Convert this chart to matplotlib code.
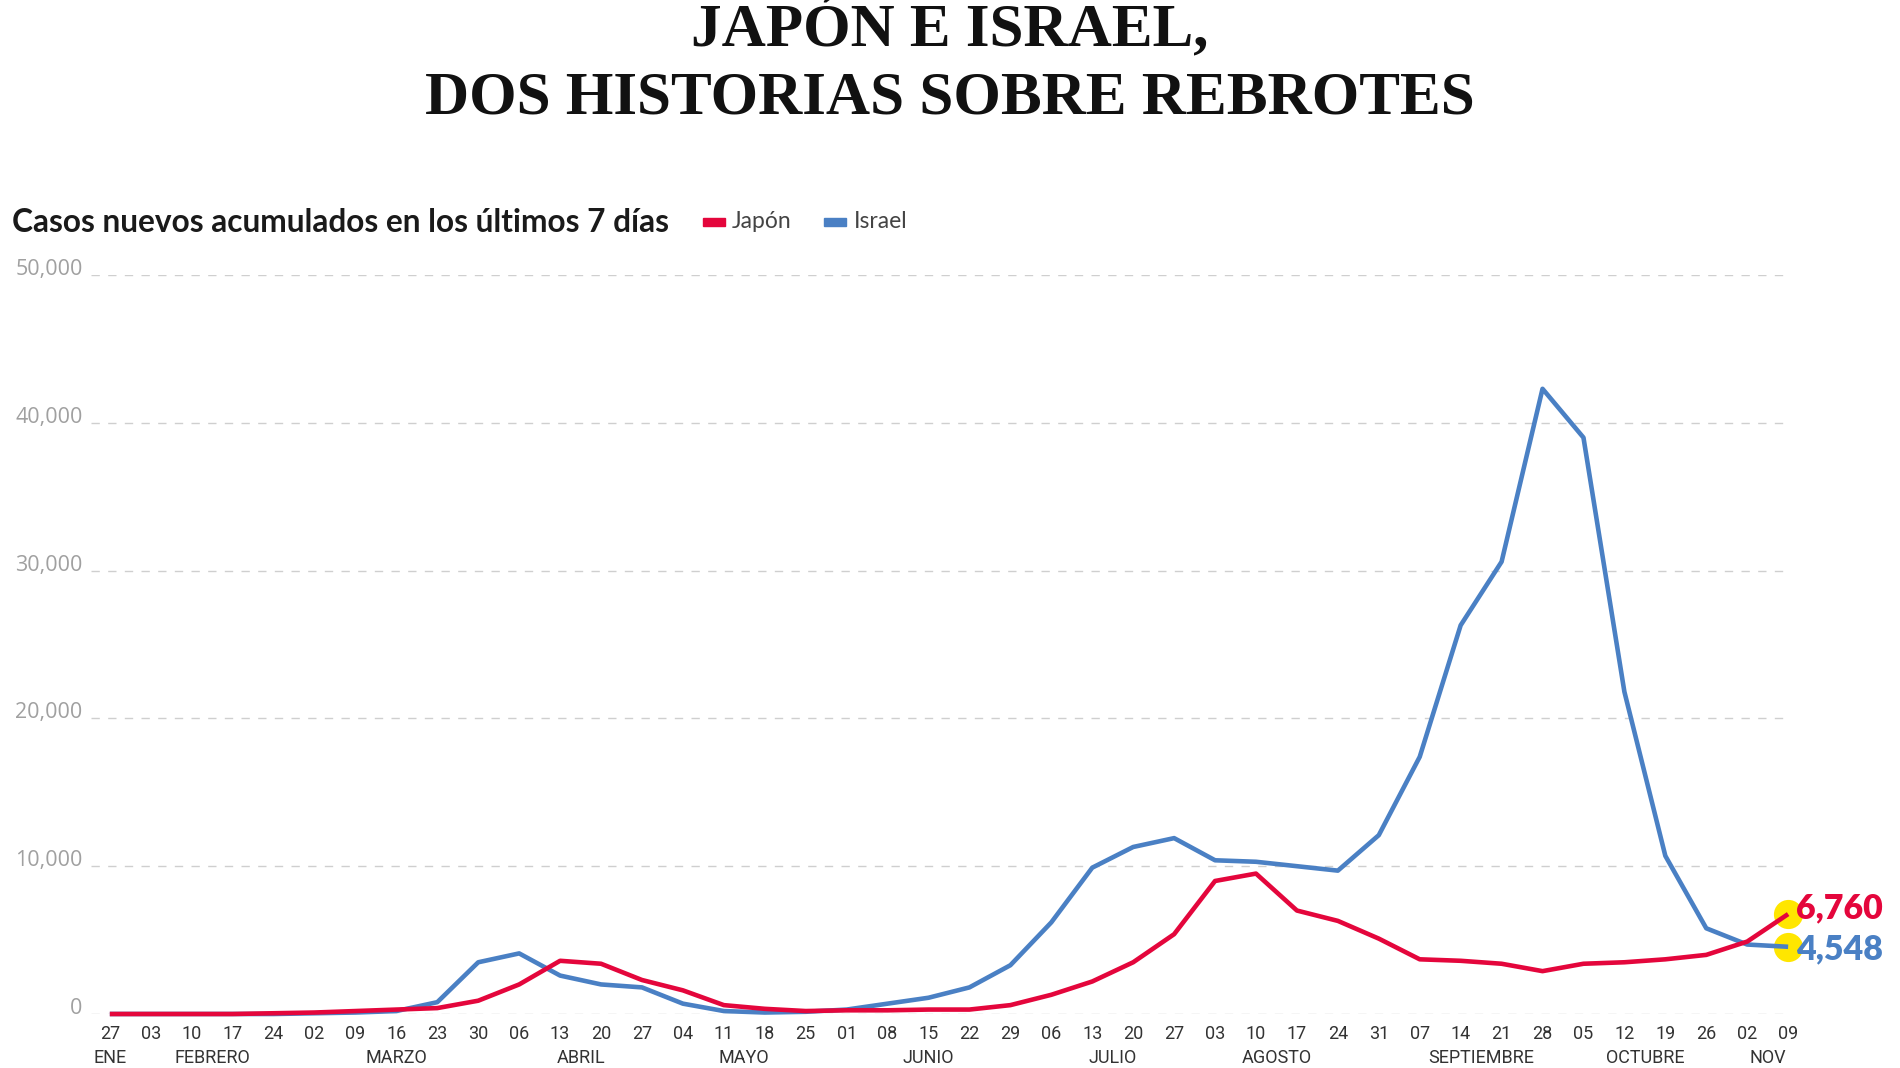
import matplotlib
matplotlib.use("Agg")
import matplotlib.pyplot as plt
from matplotlib.patches import Rectangle

# weekly dates (day numbers) from 27 Jan to 09 Nov
days = ["27", "03", "10", "17", "24", "02", "09", "16", "23", "30", "06", "13",
        "20", "27", "04", "11", "18", "25", "01", "08", "15", "22", "29", "06",
        "13", "20", "27", "03", "10", "17", "24", "31", "07", "14", "21", "28",
        "05", "12", "19", "26", "02", "09"]
months = ["ENE", "FEBRERO", "MARZO", "ABRIL", "MAYO", "JUNIO", "JULIO",
          "AGOSTO", "SEPTIEMBRE", "OCTUBRE", "NOV"]
month_pos = [0, 2.5, 7, 11.5, 15.5, 20, 24.5, 28.5, 33.5, 37.5, 40.5]

japon = [0, 0, 0, 0, 50, 100, 200, 300, 400, 900, 2000, 3600,
         3400, 2300, 1600, 600, 350, 200, 250, 250, 300, 300, 600, 1300,
         2200, 3500, 5400, 9000, 9500, 7000, 6300, 5100, 3700, 3600, 3400, 2900,
         3400, 3500, 3700, 4000, 4900, 6760]
israel = [0, 0, 0, 0, 0, 50, 100, 200, 800, 3500, 4100, 2600,
          2000, 1800, 700, 200, 100, 150, 300, 700, 1100, 1800, 3300, 6200,
          9900, 11300, 11900, 10400, 10300, 10000, 9700, 12100, 17400, 26300, 30600, 42300,
          39000, 21800, 10700, 5800, 4700, 4548]

RED = "#e4063c"
BLUE = "#4a80c4"
YELLOW = "#ffe600"
SANS = ["Lato", "DejaVu Sans"]

W, H = 1900, 1068
fig = plt.figure(figsize=(W / 100, H / 100), dpi=100)
ax = fig.add_axes([91 / W, (H - 1014) / H, (1791 - 91) / W, (1014 - 275) / H])

x = list(range(len(days)))
ax.plot(x, israel, color=BLUE, lw=3.3, clip_on=False, zorder=3, solid_capstyle="butt")
ax.plot(x, japon, color=RED, lw=3.3, clip_on=False, zorder=4, solid_capstyle="butt")

ax.plot(x[-1], japon[-1], "o", ms=21, color=YELLOW, mec="none", zorder=2, clip_on=False)
ax.plot(x[-1], israel[-1], "o", ms=21, color=YELLOW, mec="none", zorder=2, clip_on=False)

ax.annotate(f"{japon[-1]:,}", (x[-1], japon[-1]), xytext=(6, 4), textcoords="offset points",
            color=RED, fontsize=24.5, fontweight="heavy", va="center", ha="left",
            family=SANS, annotation_clip=False)
ax.annotate(f"{israel[-1]:,}", (x[-1], israel[-1]), xytext=(6, -2), textcoords="offset points",
            color=BLUE, fontsize=24.5, fontweight="heavy", va="center", ha="left",
            family=SANS, annotation_clip=False)

ax.set_xlim(-0.46, 41.07)
ax.set_ylim(0, 50000)
yt = [0, 10000, 20000, 30000, 40000, 50000]
ax.set_yticks(yt)
ax.set_yticklabels([f"{v:,}" for v in yt], color="#a0a0a0", fontsize=15.5,
                   family=["Open Sans", "DejaVu Sans"])
for lbl in ax.get_yticklabels():
    lbl.set_va("baseline")
ax.tick_params(axis="y", length=0, pad=6)
for v in yt:
    ax.axhline(v, color="#cfcfcf", lw=1.0, ls=(0, (6, 6)), zorder=1)

ax.set_xticks(x)
ax.set_xticklabels(days, fontsize=13, color="#333333", family=["Roboto", "DejaVu Sans"])
ax.tick_params(axis="x", length=0, pad=8)
for m, p in zip(months, month_pos):
    ax.annotate(m, (p, 0), xytext=(0, -32), textcoords="offset points", ha="center",
                va="center", fontsize=13, color="#333333",
                family=["Roboto", "DejaVu Sans"], annotation_clip=False)

for s in ax.spines.values():
    s.set_visible(False)

# title
title_font = dict(family=["Liberation Serif", "DejaVu Serif"], fontweight="bold",
                  fontsize=44, color="#111111", ha="center", va="baseline")
fig.text(0.5, (H - 45) / H, "JAPÓN E ISRAEL,", **title_font)
fig.text(0.5, (H - 113) / H, "DOS HISTORIAS SOBRE REBROTES", **title_font)

fig.text(12 / W, (H - 222) / H, "Casos nuevos acumulados en los últimos 7 días",
         fontsize=22.8, fontweight="bold", color="#1a1a1a", va="center", ha="left",
         family=SANS)

fig.add_artist(Rectangle((703 / W, (H - 226) / H), 22 / W, 8 / H, color=RED,
                         transform=fig.transFigure))
fig.text(732 / W, (H - 222) / H, "Japón", fontsize=16.5, color="#444444", va="center",
         family=SANS)
fig.add_artist(Rectangle((824 / W, (H - 226) / H), 22 / W, 8 / H, color=BLUE,
                         transform=fig.transFigure))
fig.text(854 / W, (H - 222) / H, "Israel", fontsize=16.5, color="#444444", va="center",
         family=SANS)

fig.savefig("out.png", dpi=100, facecolor="white")
